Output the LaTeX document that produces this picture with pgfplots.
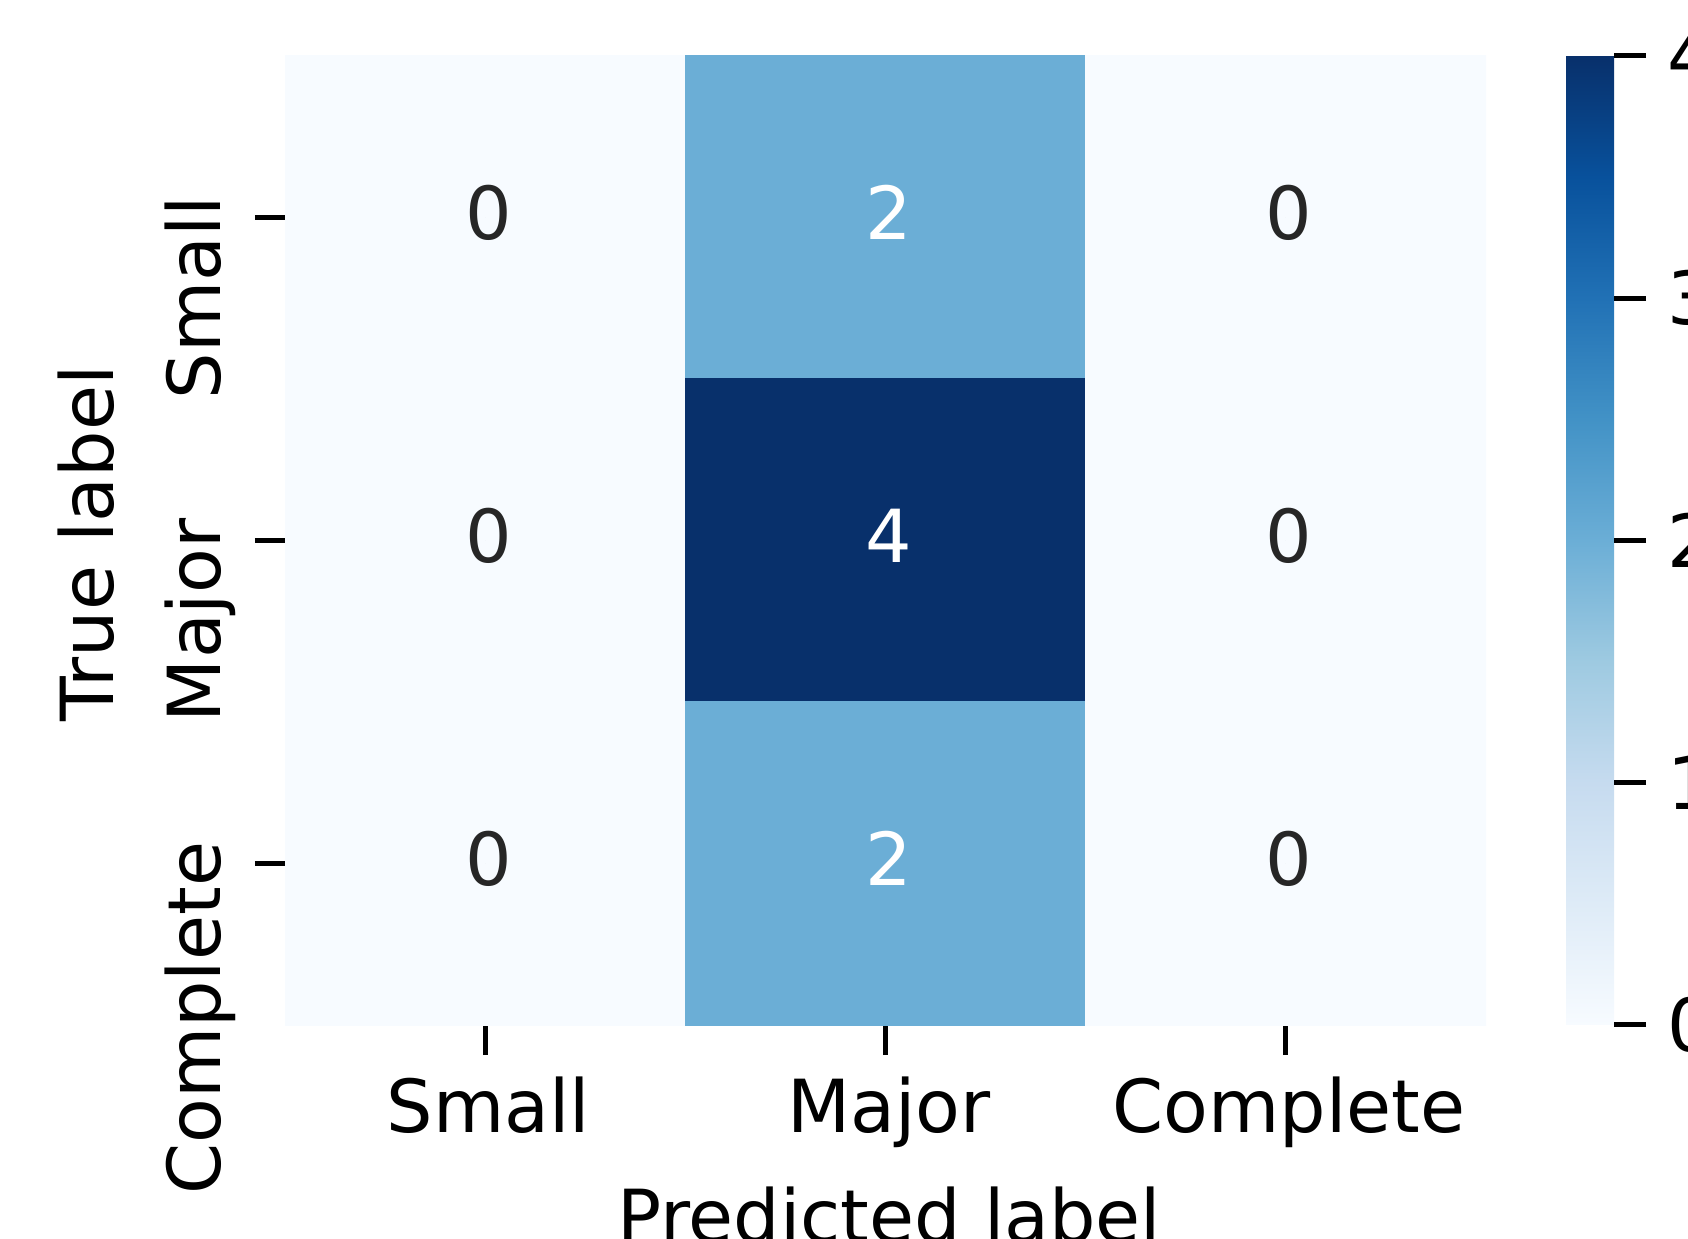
\documentclass[border=0pt]{standalone}
\usepackage{fontspec}
\setmainfont{DejaVu Sans}
\usepackage{pgfplots}
\pgfplotsset{compat=1.18}
\definecolor{annot}{HTML}{262626}
\pgfplotsset{
  colormap={blues}{rgb255=(247,251,255) rgb255=(222,235,247) rgb255=(198,219,239) rgb255=(158,202,225) rgb255=(107,174,214) rgb255=(66,146,198) rgb255=(33,113,181) rgb255=(8,81,156) rgb255=(8,48,107)},
}
\newcommand{\lblfont}{\fontsize{18.3}{22}\selectfont}
\begin{document}
\begin{tikzpicture}[font=\lblfont]
\begin{scope}
\clip (0,0) rectangle (422pt,309.75pt);
\begin{axis}[
  at={(71.25pt,53.5pt)}, anchor=south west,
  scale only axis, width=300.25pt, height=242.25pt,
  xmin=-0.5, xmax=2.5, ymin=-0.5, ymax=2.5, y dir=reverse,
  axis x line*=bottom, axis y line*=left,
  axis line style={draw=none},
  xtick={0,1,2}, ytick={0,1,2},
  xticklabels={Small,Major,Complete},
  yticklabels={Small,Major,Complete},
  tick align=outside, major tick length=7.5pt,
  tick style={black, line width=1.25pt},
  tick label style={font=\lblfont},
  label style={font=\lblfont},
  xticklabel style={inner sep=0pt, anchor=base, xshift=0.8pt, yshift=-19.25pt},
  yticklabel style={inner sep=0pt, xshift=-8.5pt, yshift=5.6pt, rotate=90, anchor=base east},
  /pgf/number format/assume math mode=true,
  colormap name=blues,
  point meta min=0, point meta max=4,
  colorbar,
  colorbar shift/.style={xshift=20pt},
  colorbar style={
    width=12pt,
    at={(parent axis.north east)}, anchor=north west,
    ytick={0,1,2,3,4},
    ytick pos=right,
    tick align=outside, major tick length=8pt,
    tick style={black, line width=1.25pt},
    axis line style={draw=none},
    yticklabel style={font=\lblfont, inner sep=0pt, anchor=west, xshift=5.25pt},
    /pgf/number format/assume math mode=true,
  },
  xlabel={Predicted label}, ylabel={True label},
  xlabel style={at={(axis description cs:0.503,-0.2240)}, anchor=base, inner sep=0pt},
  ylabel style={at={(axis description cs:-0.1424,0.497)}, anchor=base, inner sep=0pt},
]
\addplot[matrix plot*, mesh/cols=3, point meta=explicit] table[meta=c] {
x y c
0 0 0
1 0 2
2 0 0
0 1 0
1 1 4
2 1 0
0 2 0
1 2 2
2 2 0
};
\addplot[only marks, mark=*, mark size=0pt, mark options={draw=none, fill=none},
  nodes near coords, nodes near coords align=center, point meta=explicit symbolic,
  every node near coord/.append style={text=annot, inner sep=0pt, xshift=0.8pt, yshift=1.25pt, font=\lblfont}]
  table[meta=t] {
x y t
0 0 0
2 0 0
0 1 0
2 1 0
0 2 0
2 2 0
};
\addplot[only marks, mark=*, mark size=0pt, mark options={draw=none, fill=none},
  nodes near coords, nodes near coords align=center, point meta=explicit symbolic,
  every node near coord/.append style={text=white, inner sep=0pt, xshift=0.8pt, yshift=1.25pt, font=\lblfont}]
  table[meta=t] {
x y t
1 0 2
1 1 4
1 2 2
};
\end{axis}
\end{scope}
\pgfresetboundingbox
\path[use as bounding box] (0,0) rectangle (422pt,309.75pt);
\end{tikzpicture}
\end{document}
